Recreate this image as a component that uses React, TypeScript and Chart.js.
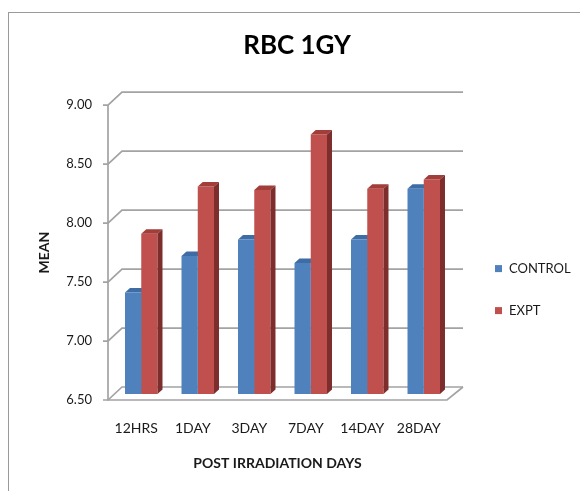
import React, { useEffect, useRef } from "react";
import { Chart, registerables } from "chart.js";

Chart.register(...registerables);

// ---- data ----
const categories = ["12HRS", "1DAY", "3DAY", "7DAY", "14DAY", "28DAY"];
const controlValues = [7.36, 7.67, 7.81, 7.61, 7.81, 8.24];
const exptValues = [7.86, 8.26, 8.23, 8.7, 8.24, 8.32];
const yTicks = [6.5, 7.0, 7.5, 8.0, 8.5, 9.0];
const seriesNames = ["CONTROL", "EXPT"];

// ---- style ----
const seriesColors = ["#4F81BD", "#C0504D"];
const capColors = ["#3E6CA5", "#A23D3A"];
const sideColors = ["#34598A", "#7D2E2C"];
const GRID = "#a3a3a3";
const TEXT = "#1a1a1a";
const FONT = "Lato";

const DEPTH_X = 5;
const DEPTH_Y = 4.5;
const SHIFT_X = 5;
const SHIFT_Y = -6;
const WALL_LX = 14;
const WALL_RX = 16;
const WALL_Y = 13;

function drawDepth(ctx: CanvasRenderingContext2D, meta: any, di: number) {
  meta.data.forEach((el: any) => {
    const p = el.getProps(["x", "y", "width", "base"], true);
    const l = p.x - p.width / 2;
    const r = p.x + p.width / 2;
    const t = p.y;
    const b = p.base;
    ctx.fillStyle = capColors[di];
    ctx.beginPath();
    ctx.moveTo(l, t);
    ctx.lineTo(l + DEPTH_X, t - DEPTH_Y);
    ctx.lineTo(r + DEPTH_X, t - DEPTH_Y);
    ctx.lineTo(r, t);
    ctx.closePath();
    ctx.fill();
    ctx.fillStyle = sideColors[di];
    ctx.beginPath();
    ctx.moveTo(r, t);
    ctx.lineTo(r + DEPTH_X, t - DEPTH_Y);
    ctx.lineTo(r + DEPTH_X, b - DEPTH_Y);
    ctx.lineTo(r, b);
    ctx.closePath();
    ctx.fill();
  });
}

const framePlugin = {
  id: "frame3d",
  beforeDraw(chart: any) {
    const { ctx, width, height } = chart;
    ctx.save();
    ctx.fillStyle = "#ffffff";
    ctx.fillRect(0, 0, width, height);
    ctx.strokeStyle = "#9a9a9a";
    ctx.lineWidth = 1;
    ctx.strokeRect(8.5, 12.5, width + 50, height + 50);
    ctx.restore();
  },
  beforeDatasetsDraw(chart: any) {
    const { ctx, chartArea } = chart;
    const y = chart.scales.y;
    const backRight = chartArea.right + WALL_RX;
    ctx.save();
    ctx.strokeStyle = GRID;
    ctx.lineWidth = 1.7;
    yTicks.forEach((v) => {
      const py = y.getPixelForValue(v);
      ctx.beginPath();
      ctx.moveTo(chartArea.left - 5, py);
      ctx.lineTo(chartArea.left, py);
      ctx.lineTo(chartArea.left + WALL_LX, py - WALL_Y);
      ctx.lineTo(backRight, py - WALL_Y);
      ctx.stroke();
    });
    ctx.beginPath();
    ctx.moveTo(chartArea.left, chartArea.top);
    ctx.lineTo(chartArea.left, chartArea.bottom);
    ctx.lineTo(chartArea.right, chartArea.bottom);
    ctx.lineTo(backRight, chartArea.bottom - WALL_Y);
    ctx.stroke();
    ctx.restore();

    ctx.save();
    ctx.translate(SHIFT_X, SHIFT_Y);
    drawDepth(ctx, chart.getDatasetMeta(0), 0);
  },
  afterDatasetsDraw(chart: any) {
    const { ctx } = chart;
    drawDepth(ctx, chart.getDatasetMeta(1), 1);
    ctx.restore();
  },
  afterDraw(chart: any) {
    const { ctx, chartArea } = chart;
    const r = chart.scales.r;
    const lx = r.left + 48;
    const cy = (chartArea.top + chartArea.bottom) / 2;
    ctx.save();
    ctx.font = `13px ${FONT}`;
    ctx.textBaseline = "middle";
    ctx.textAlign = "left";
    chart.data.datasets.forEach((ds: any, i: number) => {
      const yy = cy + 16 + i * 42;
      ctx.fillStyle = ds.backgroundColor;
      ctx.fillRect(lx, yy - 3.5, 7, 7);
      ctx.fillStyle = TEXT;
      ctx.fillText(ds.label, lx + 14, yy);
    });
    ctx.restore();
  },
};

export default function App() {
  const ref = useRef<HTMLCanvasElement>(null);
  useEffect(() => {
    const chart = new Chart(ref.current as HTMLCanvasElement, {
      type: "bar",
      data: {
        labels: categories,
        datasets: [
          {
            label: seriesNames[0],
            data: controlValues,
            backgroundColor: seriesColors[0],
            base: yTicks[0],
            barPercentage: 1,
            categoryPercentage: 0.575,
            clip: false as any,
          },
          {
            label: seriesNames[1],
            data: exptValues,
            backgroundColor: seriesColors[1],
            base: yTicks[0],
            barPercentage: 1,
            categoryPercentage: 0.575,
            clip: false as any,
          },
        ],
      },
      options: {
        responsive: false,
        animation: false,
        layout: { padding: { left: 36, right: 22, top: 0, bottom: 0 } },
        plugins: {
          legend: { display: false },
          tooltip: { enabled: false },
          title: {
            display: true,
            text: "RBC 1GY",
            color: "#000",
            font: { family: FONT, size: 26, weight: "bold" },
            padding: { top: 30, bottom: 44 },
          },
        },
        scales: {
          x: {
            grid: { display: false, drawTicks: false },
            border: { display: false },
            ticks: { color: TEXT, font: { family: FONT, size: 14 }, padding: 20 },
            title: {
              display: true,
              text: "POST IRRADIATION DAYS",
              color: TEXT,
              font: { family: FONT, size: 14, weight: "bold" },
              padding: { top: 0, bottom: 19 },
            },
            afterFit(s: any) {
              s.height = 91;
            },
          },
          y: {
            min: 6.5,
            max: 9,
            grid: { display: false, drawTicks: false },
            border: { display: false },
            ticks: {
              color: TEXT,
              font: { family: FONT, size: 13 },
              padding: 16,
              callback: (v: any) => Number(v).toFixed(2),
            },
            afterBuildTicks(s: any) {
              s.ticks = yTicks.map((v) => ({ value: v }));
            },
            title: {
              display: true,
              text: "MEAN",
              color: TEXT,
              font: { family: FONT, size: 14, weight: "bold" },
              padding: { top: 0, bottom: 0 },
            },
            afterFit(s: any) {
              s.width = 72;
            },
          },
          r: {
            type: "linear",
            position: "right",
            display: true,
            grid: { display: false, drawTicks: false },
            border: { display: false },
            ticks: { display: false },
            afterFit(s: any) {
              s.width = 111;
            },
          },
        },
      },
      plugins: [framePlugin],
    });
    return () => chart.destroy();
  }, []);
  return (
    <div style={{ position: "fixed", left: 0, top: 0, width: 580, height: 491, background: "#fff" }}>
      <canvas ref={ref} width={580} height={491} style={{ display: "block" }} />
    </div>
  );
}
